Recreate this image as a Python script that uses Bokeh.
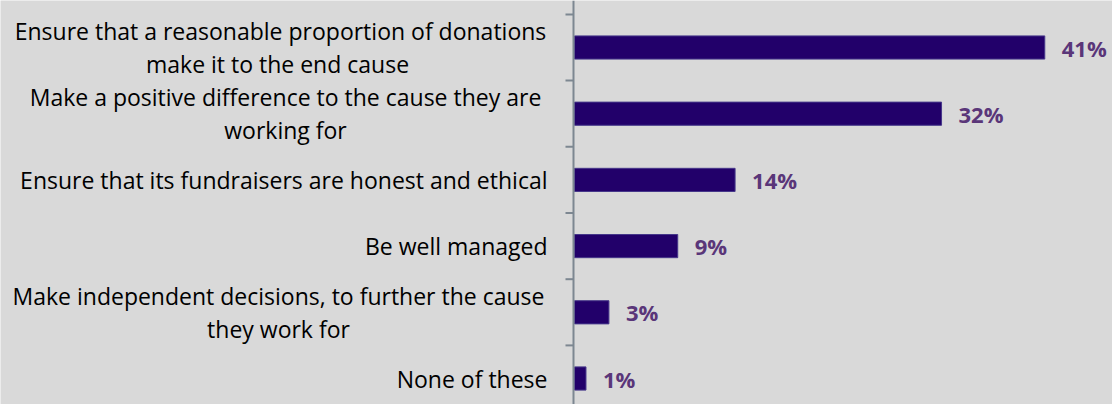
from bokeh.plotting import figure
from bokeh.models import Range1d, Span, ColumnDataSource
from bokeh.embed import file_html
from bokeh.resources import INLINE
from bokeh.core.properties import value

# ---- data ----
categories = [
    "Ensure that a reasonable proportion of donations\nmake it to  the end cause",
    "Make a positive difference to the cause they are\nworking for",
    "Ensure that its fundraisers are honest and ethical",
    "Be well managed",
    "Make independent decisions, to further the cause\nthey work for",
    "None of these",
]
values = [41, 32, 14, 9, 3, 1]
value_labels = ["41%", "32%", "14%", "9%", "3%", "1%"]

# ---- layout (pixels, page coordinates) ----
W, H = 1112, 404
PX_PER_PCT = 11.47
ZERO_PAGE_X = 574.0
AXIS_PAGE_X = 573.0
TICK_LEN_PX = 8
BAND_PX = 66.2
FIRST_CENTER_PAGE_Y = 47.0
label_anchor_page_x = [280, 285, 547, 547, 278, 547]
label_align = ["center", "center", "right", "right", "center", "right"]

BG = "#d9d9d9"
BAR = "#22006a"
BAR_EDGE = "#46378a"
VAL_COLOR = "#5a3679"
AXIS_COLOR = "#7d8791"


def px_to_x(px):
    return (px - ZERO_PAGE_X) / PX_PER_PCT


xmin = px_to_x(0)
xmax = xmin + W / PX_PER_PCT
ytop = -FIRST_CENTER_PAGE_Y / BAND_PX
ybottom = ytop + H / BAND_PX

n = len(categories)
idx = list(range(n))

p = figure(width=W, height=H, x_range=Range1d(xmin, xmax),
           y_range=Range1d(ybottom, ytop), output_backend="svg",
           toolbar_location=None, x_axis_location=None, y_axis_location=None,
           min_border=0)
p.background_fill_color = BG
p.border_fill_color = BG
p.outline_line_color = None
p.xgrid.visible = False
p.ygrid.visible = False

src = ColumnDataSource(dict(
    y=idx, v=values, vl=value_labels, cat=categories,
    lx=[px_to_x(px) for px in label_anchor_page_x], la=label_align,
))

# bars
p.hbar(y="y", left=0, right="v", height=0.35, source=src,
       fill_color=BAR, line_color=BAR_EDGE, line_width=1)

# axis line and ticks at band boundaries
axis_x = px_to_x(AXIS_PAGE_X)
p.add_layout(Span(location=axis_x, dimension="height",
                  line_color=AXIS_COLOR, line_width=2))
bounds = [i - 0.5 for i in range(n + 1)]
p.segment(x0=[px_to_x(AXIS_PAGE_X - TICK_LEN_PX)] * len(bounds), y0=bounds,
          x1=[axis_x] * len(bounds), y1=bounds,
          line_color=AXIS_COLOR, line_width=2)

# value labels
p.text(x="v", y="y", text="vl", source=src, x_offset=17,
       text_font=value("Open Sans"), text_font_style="bold",
       text_font_size="22px", text_color=VAL_COLOR,
       text_align="left", text_baseline="middle")

# category labels
p.text(x="lx", y="y", text="cat", source=src,
       text_font=value("Open Sans"), text_font_size="23px",
       text_color="#000000", text_align="la", text_baseline="middle",
       text_line_height=1.04)

open("out.html", "w").write(file_html(p, INLINE))
